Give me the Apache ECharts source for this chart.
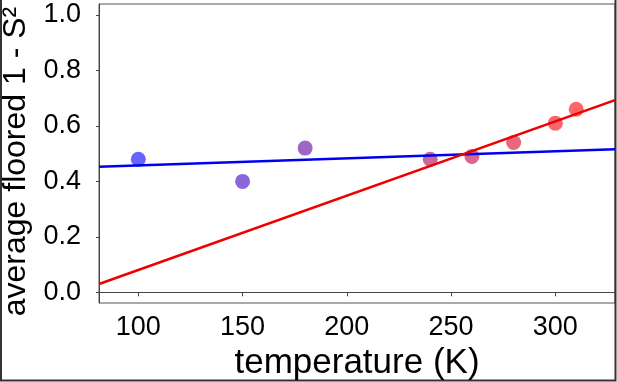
<!DOCTYPE html>
<html>
<head>
<meta charset="utf-8">
<script src="https://cdn.jsdelivr.net/npm/echarts@6/dist/echarts.min.js"></script>
<style>
  html, body { margin: 0; padding: 0; background: #fff; }
  #chart { width: 617px; height: 382px; }
</style>
</head>
<body>
<div id="chart"></div>
<script>
// measured points
var temps = [100, 150, 180, 240, 260, 280, 300, 310];
var avgFloored = [0.48, 0.40, 0.52, 0.48, 0.49, 0.54, 0.61, 0.66];

// fit lines, value at left and right edge of the plot
var fitX = [81.15, 328.6];
var blueFit = [0.453, 0.516];
var redFit = [0.030, 0.693];

var xTicks = [100, 150, 200, 250, 300];
var yTicks = [0, 0.2, 0.4, 0.6, 0.8, 1.0];

var chart = echarts.init(document.getElementById('chart'));

var option = {
  animation: false,
  backgroundColor: '#fff',
  textStyle: { fontFamily: 'Liberation Sans, Arial, sans-serif' },
  grid: {
    left: 99, right: 2, top: 4, bottom: 79,
    outerBoundsMode: 'none',
    containLabel: false,
    show: true, borderColor: '#555', borderWidth: 1
  },
  visualMap: {
    show: false,
    type: 'continuous',
    seriesIndex: 0,
    dimension: 0,
    min: 100,
    max: 310,
    inRange: { color: ['#0000ff', '#ff0000'] }
  },
  xAxis: {
    type: 'value',
    min: 81.15,
    max: 328.6,
    name: 'temperature (K)',
    nameLocation: 'middle',
    nameGap: 39,
    nameTextStyle: { fontSize: 35, color: '#000' },
    axisLine: { lineStyle: { color: '#444', width: 1 } },
    axisTick: { show: true, length: 4, lineStyle: { color: '#444' }, customValues: xTicks },
    axisLabel: { fontSize: 27, color: '#000', margin: 11, customValues: xTicks },
    splitLine: { show: false }
  },
  yAxis: {
    type: 'value',
    min: -0.0386,
    max: 1.0397,
    name: 'average floored 1 - S²',
    nameLocation: 'middle',
    nameGap: 62,
    nameTextStyle: { fontSize: 32, color: '#000', padding: [0, 16, 0, 0] },
    axisLine: { show: true, lineStyle: { color: '#444', width: 1 } },
    axisTick: { show: true, length: 3, lineStyle: { color: '#444' }, customValues: yTicks },
    axisLabel: {
      fontSize: 27, color: '#000', margin: 18, customValues: yTicks,
      formatter: function (v) { return v.toFixed(1); }
    },
    splitLine: { show: false }
  },
  graphic: [{
    type: 'polyline',
    silent: true,
    shape: { points: [[1, 0], [1, 380.5], [615.5, 380.5], [615.5, 0]] },
    style: { fill: null, stroke: '#333', lineWidth: 2 }
  }],
  series: [
    {
      type: 'scatter',
      symbolSize: 15,
      z: 3,
      itemStyle: { opacity: 0.6 },
      data: temps.map(function (t, i) { return [t, avgFloored[i]]; })
    },
    {
      type: 'line',
      symbol: 'none',
      z: 4,
      lineStyle: { color: '#0000ee', width: 2.5 },
      data: fitX.map(function (x, i) { return [x, blueFit[i]]; })
    },
    {
      type: 'line',
      symbol: 'none',
      z: 4,
      lineStyle: { color: '#ee0000', width: 2.5 },
      data: fitX.map(function (x, i) { return [x, redFit[i]]; })
    }
  ]
};

chart.setOption(option);
</script>
</body>
</html>
